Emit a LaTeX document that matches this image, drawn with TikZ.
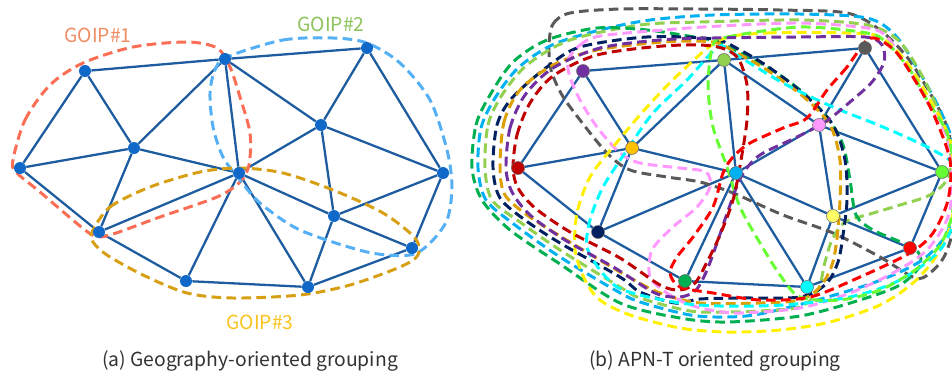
\documentclass[tikz,border=0pt]{standalone}
\usepackage{fontspec}
\setmainfont{Noto Sans CJK JP}
\usepackage{xcolor}
\usepackage{tikz}
\usetikzlibrary{backgrounds}

\definecolor{edgeblue}{RGB}{30,92,160}
\definecolor{nodeblue}{RGB}{16,104,200}
\definecolor{goipred}{RGB}{250,110,85}
\definecolor{goipblue}{RGB}{85,175,245}
\definecolor{goipgold}{RGB}{215,160,20}
\definecolor{labred}{RGB}{240,140,100}
\definecolor{labgreen}{RGB}{140,195,90}
\definecolor{labgold}{RGB}{250,195,30}
\definecolor{capgray}{RGB}{50,50,50}
\definecolor{apngray}{RGB}{89,89,89}
\definecolor{apnlblue}{RGB}{0,176,240}
\definecolor{apnlgreen}{RGB}{146,208,80}
\definecolor{apngreen}{RGB}{0,176,80}
\definecolor{apnnavy}{RGB}{0,32,96}
\definecolor{apnorange}{RGB}{222,160,0}
\definecolor{apngold}{RGB}{255,192,0}
\definecolor{apnpink}{RGB}{255,153,255}
\definecolor{apnyellow}{RGB}{255,240,0}
\definecolor{apnlyellow}{RGB}{255,255,102}
\definecolor{apncyan}{RGB}{0,255,255}
\definecolor{apnlime}{RGB}{102,255,51}
\definecolor{apnpurple}{RGB}{112,48,160}
\definecolor{apndarkred}{RGB}{192,0,0}
\definecolor{apnred}{RGB}{255,0,0}

\begin{document}
\begin{tikzpicture}[
        x=0.02cm, y=-0.02cm,
        edge/.style={draw=edgeblue, line width=1.3pt},
        geonode/.style={circle, fill=nodeblue, inner sep=0pt, minimum size=0.24cm},
        apnnode/.style={circle, draw=gray!80!black, line width=0.3pt, inner sep=0pt, minimum size=0.26cm},
        grpline/.style={line width=1.7pt, dash pattern=on 5.5pt off 3pt},
        goiplabel/.style={font=\fontsize{11}{13}\selectfont},
        caption/.style={font=\fontsize{11}{13}\selectfont, text=capgray}
    ]
    \useasboundingbox (0,0) rectangle (952,373);

    % (a) geography-oriented nodes
    \node[geonode] (ga) at (85,71) {};
    \node[geonode] (gb) at (225,59) {};
    \node[geonode] (gc) at (367,48) {};
    \node[geonode] (gd) at (20,168) {};
    \node[geonode] (ge) at (134,148) {};
    \node[geonode] (gf) at (239,173) {};
    \node[geonode] (gg) at (321,125) {};
    \node[geonode] (gh) at (443,173) {};
    \node[geonode] (gi) at (99,232) {};
    \node[geonode] (gj) at (334,216) {};
    \node[geonode] (gk) at (412,248) {};
    \node[geonode] (gl) at (186,281) {};
    \node[geonode] (gm) at (308,287) {};

    % (b) APN-T oriented nodes
    \node[apnnode, fill=apnpurple] (pa) at (583,71) {};
    \node[apnnode, fill=apnlgreen] (pb) at (724,60) {};
    \node[apnnode, fill=apngray] (pc) at (865,48) {};
    \node[apnnode, fill=apndarkred] (pd) at (518,168) {};
    \node[apnnode, fill=apngold] (pe) at (632,148) {};
    \node[apnnode, fill=apnlblue] (pf) at (736,173) {};
    \node[apnnode, fill=apnpink] (pg) at (819,125) {};
    \node[apnnode, fill=apnlime] (ph) at (942,172) {};
    \node[apnnode, fill=apnnavy] (pi) at (598,232) {};
    \node[apnnode, fill=apnlyellow] (pj) at (833,216) {};
    \node[apnnode, fill=apnred] (pk) at (910,248) {};
    \node[apnnode, fill=apngreen] (pl) at (685,281) {};
    \node[apnnode, fill=apncyan] (pm) at (807,287) {};

    % labels
    \node[goiplabel, text=labred] (goip1) at (98,35) {GOIP\#1};
    \node[goiplabel, text=labgreen] (goip2) at (331,24) {GOIP\#2};
    \node[goiplabel, text=labgold] (goip3) at (260,322) {GOIP\#3};
    \node[caption] (capa) at (250,361) {(a) Geography-oriented grouping};
    \node[caption] (capb) at (715,361) {(b) APN-T oriented grouping};

    \begin{pgfonlayer}{background}
        % mesh of (a)
        \draw[edge] (ga) -- (gb) (gb) -- (gc) (ga) -- (gd) (ga) -- (ge) (gd) -- (ge)
            (gd) -- (gi) (ge) -- (gb) (ge) -- (gi) (ge) -- (gf) (gb) -- (gf);
        \draw[edge] (gb) -- (gg) (gc) -- (gg) (gc) -- (gh) (gg) -- (gf) (gg) -- (gh)
            (gg) -- (gj) (gf) -- (gi) (gf) -- (gj) (gf) -- (gl) (gf) -- (gm);
        \draw[edge] (gj) -- (gh) (gj) -- (gk) (gj) -- (gm) (gh) -- (gk) (gi) -- (gl)
            (gl) -- (gm) (gm) -- (gk);
        % mesh of (b)
        \draw[edge] (pa) -- (pb) (pb) -- (pc) (pa) -- (pd) (pa) -- (pe) (pd) -- (pe)
            (pd) -- (pi) (pe) -- (pb) (pe) -- (pi) (pe) -- (pf) (pb) -- (pf);
        \draw[edge] (pb) -- (pg) (pc) -- (pg) (pc) -- (ph) (pg) -- (pf) (pg) -- (ph)
            (pg) -- (pj) (pf) -- (pi) (pf) -- (pj) (pf) -- (pl) (pf) -- (pm);
        \draw[edge] (pj) -- (ph) (pj) -- (pk) (pj) -- (pm) (ph) -- (pk) (pi) -- (pl)
            (pl) -- (pm) (pm) -- (pk);

        % GOIP groups
        \draw[grpline, goipred] plot[smooth cycle] coordinates {(13,160) (25,120) (50,85) (83,63)
            (133,47) (187,42) (217,48) (230,67) (240,97) (250,133) (249,165) (240,182) (217,197)
            (160,217) (110,235) (95,236) (80,226) (40,192) (16,172)};
        \draw[grpline, goipblue] plot[smooth cycle] coordinates {(227,57) (283,40) (333,38) (367,43)
            (400,63) (430,100) (447,150) (452,187) (447,220) (430,243) (410,255) (367,252) (300,230)
            (260,203) (240,180) (223,157) (213,127) (210,93) (215,70)};
        \draw[grpline, goipgold] plot[smooth cycle] coordinates {(92,232) (110,207) (150,187) (200,172)
            (240,168) (283,173) (333,190) (383,213) (415,238) (418,255) (400,267) (350,285) (300,295)
            (233,298) (187,293) (143,275) (107,255) (93,242)};

        % APN-T groups
        \draw[grpline, apngray] plot[smooth cycle] coordinates {(549,45) (553,24) (570,13) (620,9)
            (700,9) (780,10) (847,13) (880,30) (907,57) (930,93) (947,127) (955,170) (955,220)
            (945,255) (930,273) (915,278) (880,257) (833,233) (783,215) (733,193) (700,182) (667,177)
            (630,170) (607,153) (580,120) (562,95) (551,70)};
        \draw[grpline, apnlblue] plot[smooth cycle] coordinates {(478,168) (481,128) (495,98) (518,68)
            (552,45) (600,30) (650,20) (713,15) (800,14) (867,18) (895,35) (917,68) (940,110) (955,150)
            (956,200) (946,235) (925,258) (900,272) (867,285) (817,300) (760,314) (727,317) (690,315)
            (640,302) (615,290) (560,257) (515,225) (486,200)};
        \draw[grpline, apnlgreen] plot[smooth cycle] coordinates {(485,168) (488,125) (502,95) (527,65)
            (570,40) (640,25) (700,22) (800,20) (867,25) (898,40) (920,72) (938,110) (950,150)
            (948,178) (930,195) (900,205) (870,214) (845,222) (832,240) (825,262) (818,290) (800,307)
            (760,311) (727,312) (690,311) (640,298) (620,287) (560,250) (520,222) (492,200)};
        \draw[grpline, apngreen] plot[smooth cycle] coordinates {(472,168) (476,125) (490,95) (513,62)
            (547,40) (597,28) (647,30) (700,38) (720,43) (767,67) (800,90) (827,117) (843,145)
            (850,180) (856,215) (873,230) (903,243) (918,252) (920,266) (900,285) (860,300) (800,316)
            (727,322) (680,318) (620,303) (560,264) (510,230) (482,200)};
        \draw[grpline, apnnavy] plot[smooth cycle] coordinates {(493,168) (497,125) (512,98) (547,67)
            (580,47) (647,37) (713,39) (740,50) (770,68) (805,95) (833,125) (845,160) (847,200)
            (843,235) (838,262) (826,284) (800,297) (740,298) (700,299) (675,303) (640,292) (620,277)
            (560,243) (525,220) (500,198)};
        \draw[grpline, apnorange] plot[smooth cycle] coordinates {(500,168) (504,122) (520,90) (553,65)
            (597,50) (663,42) (713,42) (735,52) (767,70) (805,98) (830,125) (840,160) (840,200)
            (837,238) (832,265) (820,287) (800,300) (760,303) (700,303) (660,293) (620,272) (560,236)
            (527,215) (505,195)};
        \draw[grpline, apnpink] plot[smooth cycle] coordinates {(568,60) (580,45) (600,36) (663,30)
            (720,26) (800,23) (867,28) (887,37) (907,67) (933,110) (948,140) (952,180) (948,217)
            (927,250) (893,273) (850,293) (800,308) (740,313) (710,310) (688,304) (667,293) (650,277)
            (652,250) (673,227) (697,207) (710,187) (706,172) (680,168) (640,163) (620,153) (597,127)
            (580,100) (570,77)};
        \draw[grpline, apnyellow] plot[smooth cycle] coordinates {(720,40) (767,33) (850,33) (880,37)
            (905,60) (930,100) (950,140) (955,190) (950,227) (935,258) (913,283) (880,305) (830,322)
            (780,330) (727,332) (680,328) (630,315) (600,300) (585,280) (575,250) (577,213) (590,177)
            (613,147) (647,107) (680,73)};
        \draw[grpline, apncyan] plot[smooth cycle] coordinates {(718,47) (733,53) (783,83) (833,107)
            (883,127) (933,150) (955,168) (955,215) (940,250) (900,280) (850,297) (783,305) (720,306)
            (680,303) (640,295) (617,287) (600,270) (587,247) (590,220) (603,187) (627,150) (653,113)
            (687,80)};
        \draw[grpline, apnlime] plot[smooth cycle] coordinates {(713,45) (727,37) (800,27) (867,33)
            (887,43) (910,70) (927,100) (947,133) (955,175) (952,215) (940,245) (915,270) (880,290)
            (840,300) (800,297) (780,275) (760,243) (740,207) (727,167) (713,127) (708,85)};
        \draw[grpline, apnpurple] plot[smooth cycle] coordinates {(506,168) (510,128) (525,95) (553,68)
            (600,48) (660,40) (713,38) (800,37) (865,37) (882,45) (884,62) (872,82) (850,102)
            (825,122) (795,138) (760,155) (742,175) (730,205) (718,240) (707,270) (696,290) (680,297)
            (655,293) (615,268) (565,240) (530,215) (512,192)};
        \draw[grpline, apndarkred] plot[smooth cycle] coordinates {(513,168) (517,135) (530,103)
            (553,76) (597,55) (663,46) (713,46) (737,57) (747,85) (747,120) (741,160) (733,200)
            (720,235) (707,262) (695,283) (680,290) (660,285) (620,258) (570,232) (535,208) (518,188)};
        \draw[grpline, apnred] plot[smooth cycle] coordinates {(867,40) (847,67) (827,90) (807,118)
            (783,128) (750,143) (733,157) (723,173) (713,207) (693,237) (677,257) (670,273) (680,287)
            (713,293) (760,300) (810,297) (860,277) (910,253) (933,233) (948,200) (950,160) (933,113)
            (913,77) (897,53) (880,40)};
    \end{pgfonlayer}
\end{tikzpicture}
\end{document}
